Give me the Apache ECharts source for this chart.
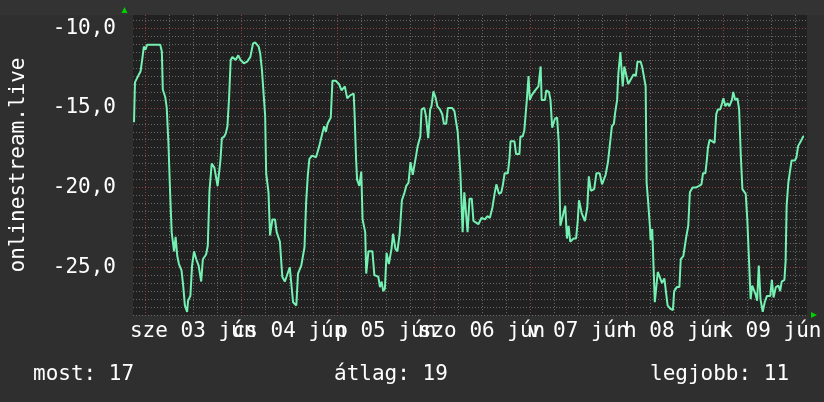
<!DOCTYPE html>
<html>
<head>
<meta charset="utf-8">
<script src="https://cdn.jsdelivr.net/npm/echarts@6/dist/echarts.min.js"></script>
<style>
  html, body { margin: 0; padding: 0; background: #2f2f2f; }
  #chart { width: 824px; height: 402px; }
</style>
</head>
<body>
<div id="chart"></div>
<script>
// hours since 03 jún 00:00
var hours = [
  -2.75,-2.51,-2.19,-1.53,-1.11,-0.72,-0.30,0.11,0.51,3.79,
  4.19,4.43,5.02,5.41,5.83,6.25,6.64,7.23,7.62,8.04,
  8.45,9.09,9.51,9.93,10.49,10.73,11.30,11.72,12.21,12.77,
  13.36,14.00,14.41,15.22,15.64,16.06,16.62,17.28,18.09,18.75,
  18.90,19.15,19.74,20.13,20.54,20.96,21.35,21.77,22.58,23.24,
  23.81,24.64,25.45,26.26,26.92,27.49,28.32,28.71,29.13,29.55,
  29.94,30.19,30.77,31.16,31.75,32.39,32.81,33.62,34.21,34.84,
  35.26,36.07,36.90,37.71,38.13,38.94,39.75,40.16,40.58,40.97,
  41.64,42.62,43.43,44.09,44.65,45.07,45.49,46.30,46.71,47.52,
  48.33,48.99,49.80,50.39,51.20,52.01,52.26,52.60,52.85,53.41,
  53.90,54.22,54.88,55.13,55.69,56.67,57.16,58.14,58.56,58.98,
  59.37,59.79,60.20,60.77,61.43,61.82,62.41,62.90,63.46,64.03,
  64.69,65.11,65.67,66.16,66.73,67.14,67.56,67.95,68.61,68.93,
  69.60,70.01,70.58,71.07,71.39,71.88,72.47,72.86,73.52,74.08,
  74.50,75.06,75.48,76.53,77.12,77.61,77.93,78.60,79.16,79.58,
  80.07,80.39,80.88,81.44,81.86,82.52,83.08,83.89,84.73,85.29,
  85.95,86.59,87.18,87.57,88.23,88.80,89.22,89.63,90.44,90.86,
  91.10,92.08,92.48,93.31,93.56,94.12,94.54,95.10,95.59,95.91,
  96.40,97.24,98.05,98.61,98.86,99.69,100.01,100.67,101.06,101.48,
  102.14,102.71,103.12,103.51,104.10,104.74,105.16,105.58,105.97,106.80,
  107.44,107.85,108.17,108.83,109.64,110.23,110.62,111.12,111.95,112.51,
  113.32,113.91,114.40,114.80,115.39,115.78,116.37,116.86,117.18,117.67,
  117.99,118.23,118.48,118.82,119.06,119.46,119.87,120.44,121.10,121.76,
  122.33,122.74,123.55,123.97,124.36,124.78,125.02,125.34,125.83,126.01,
  126.42,126.82,127.06,127.48,127.80,128.29,128.87,129.44,129.93,130.25,
  130.91,131.57,131.89,132.55,133.19,133.53,134.17,134.83,135.40,135.81,
  136.48,137.29,138.10,138.69,139.08,139.67,140.06,140.31,140.72,141.39,
  141.95,142.37,142.76,143.35,143.84,144.16,144.65,145.21,145.63,146.29,
  146.61,147.10,147.66,148.08,148.50,148.89,149.72,150.11,150.53,150.94,
  151.34,151.75,152.17,152.56,152.98,153.40,153.96,154.45,155.02,155.85,
  156.24,156.66,157.22,157.88,158.30,158.69,159.36,159.67,159.92,160.34,
  160.75,161.15,161.98,162.37,162.78,163.45,164.01,164.26
];

var values = [
  -15.9,-13.4,-13.3,-12.9,-12.7,-12.0,-11.15,-11.35,-11.04,-11.04,
  -11.46,-13.86,-14.3,-15.0,-17.2,-20.3,-22.8,-24.0,-23.1,-24.3,
  -24.8,-25.2,-26.15,-27.4,-27.8,-27.1,-26.8,-24.9,-24.0,-24.5,
  -24.9,-25.9,-24.5,-24.2,-23.65,-20.2,-18.5,-18.75,-19.9,-18.4,
  -17.9,-16.9,-16.8,-16.6,-16.15,-14.3,-12.0,-11.8,-12.0,-11.7,
  -12.0,-12.2,-12.1,-11.8,-10.95,-10.9,-11.15,-11.6,-12.6,-12.6,
  -15.5,-19.1,-20.3,-23.0,-22.0,-22.0,-22.8,-23.4,-25.6,-25.9,
  -25.6,-25.0,-27.2,-27.4,-25.4,-24.9,-23.75,-20.9,-19.2,-18.2,
  -18.0,-18.1,-17.4,-16.7,-16.15,-16.5,-16.0,-15.6,-13.3,-13.3,
  -13.5,-13.9,-13.65,-14.4,-14.2,-14.1,-15.6,-18.2,-19.5,-19.9,
  -19.0,-22.0,-22.8,-25.4,-24.0,-24.0,-25.5,-25.6,-26.25,-25.9,
  -26.5,-26.35,-24.1,-24.8,-23.85,-22.9,-23.85,-24.0,-22.9,-20.8,
  -20.3,-19.9,-19.7,-18.4,-19.2,-19.2,-18.0,-17.4,-16.8,-15.1,
  -15.0,-15.5,-16.9,-15.1,-14.9,-13.96,-14.4,-14.9,-15.1,-15.4,
  -16.0,-16.0,-15.0,-15.0,-15.2,-16.0,-16.5,-19.1,-22.8,-20.3,
  -20.4,-22.8,-20.7,-20.7,-22.1,-22.2,-22.3,-21.9,-22.0,-21.8,
  -21.9,-21.25,-20.3,-19.8,-20.4,-20.3,-19.8,-19.1,-19.1,-18.1,
  -17.1,-17.1,-17.9,-17.9,-16.8,-16.8,-16.4,-14.7,-13.0,-14.5,
  -14.2,-13.9,-13.65,-12.4,-14.5,-14.5,-13.9,-14.0,-14.5,-16.25,
  -15.7,-15.6,-17.2,-22.4,-21.8,-21.15,-23.2,-22.4,-23.4,-23.2,
  -23.2,-22.1,-20.8,-21.6,-22.1,-21.25,-19.3,-20.2,-20.1,-19.1,
  -19.1,-19.8,-19.9,-19.2,-18.4,-17.5,-16.15,-16.0,-15.3,-14.5,
  -12.8,-12.7,-11.5,-11.5,-13.65,-12.4,-12.4,-13.5,-13.2,-12.9,
  -13.0,-12.1,-12.1,-12.5,-12.5,-13.65,-19.7,-20.7,-22.4,-23.3,
  -22.6,-22.6,-27.2,-27.2,-25.3,-25.2,-26.0,-25.7,-25.8,-27.4,
  -27.6,-27.7,-26.5,-26.25,-26.25,-24.5,-24.3,-23.2,-22.4,-20.3,
  -20.0,-20.0,-19.9,-19.8,-19.1,-19.1,-18.2,-17.5,-17.0,-17.1,
  -17.2,-15.4,-15.1,-15.1,-14.7,-14.4,-14.9,-14.7,-14.9,-14.5,
  -14.0,-14.5,-14.4,-15.1,-18.0,-20.1,-20.4,-22.0,-24.5,-27.0,
  -26.15,-26.15,-26.7,-27.1,-24.9,-27.0,-27.8,-27.2,-26.8,-26.8,
  -25.8,-26.9,-26.25,-26.15,-26.5,-25.9,-25.8,-24.6,-21.15,-19.7,
  -19.6,-18.3,-18.3,-18.1,-17.4,-17.1,-16.8,-16.8
];

// day labels, centred on noon of each day
var dayLabels = ["sze 03 jún", "cs 04 jún", "p 05 jún", "szo 06 jún", "v 07 jún", "h 08 jún", "k 09 jún"];
var dayNoons = [12, 36, 60, 84, 108, 132, 156];

var summaryNames = ["most", "átlag", "legjobb"];
var summaryValues = [17, 19, 11];

var FONT = "DejaVu Sans Mono";
var GRID_GRAY = "#676767";
var GRID_RED = "#8f4242";
var NONE = "rgba(0,0,0,0)";

var chart = echarts.init(document.getElementById("chart"));

var seriesData = hours.map(function (h, i) { return [h, values[i]]; });

var summaryLeft = [33, 334, 650];

chart.setOption({
  backgroundColor: "#2f2f2f",
  animation: false,
  grid: {
    left: 124,
    right: 15,
    top: 15,
    bottom: 87,
    show: true,
    backgroundColor: "#212121",
    borderWidth: 0
  },
  xAxis: {
    type: "value",
    min: -3,
    max: 165,
    interval: 3,
    axisLine: { show: false },
    axisTick: { show: false },
    axisLabel: {
      color: "#ffffff",
      fontFamily: FONT,
      fontSize: 21,
      margin: 6,
      formatter: function (v) {
        var k = dayNoons.indexOf(Math.round(v));
        return k >= 0 ? dayLabels[k] : "";
      }
    },
    splitLine: {
      show: true,
      showMaxLine: false,
      lineStyle: {
        // ticks every 3h from -3: grid every 6h, red at midnight
        color: [NONE, GRID_RED, NONE, GRID_GRAY, NONE, GRID_GRAY, NONE, GRID_GRAY],
        width: 1,
        type: [1, 2]
      }
    }
  },
  yAxis: {
    type: "value",
    min: -28,
    max: -9.17,
    interval: 0.5,
    name: "onlinestream.live",
    nameLocation: "middle",
    nameGap: 104,
    nameTextStyle: {
      color: "#ffffff",
      fontFamily: FONT,
      fontSize: 21
    },
    axisLine: { show: false },
    axisTick: { show: false },
    axisLabel: {
      color: "#ffffff",
      fontFamily: FONT,
      fontSize: 21,
      margin: 17,
      formatter: function (v) {
        return Math.abs(v % 5) < 1e-6 ? v.toFixed(1).replace(".", ",") : "";
      }
    },
    splitLine: {
      show: true,
      showMaxLine: false,
      lineStyle: {
        // ticks every 0.5 from -28: red every 5
        color: [GRID_GRAY, GRID_GRAY, GRID_GRAY, GRID_GRAY, GRID_GRAY, GRID_GRAY, GRID_RED, GRID_GRAY, GRID_GRAY, GRID_GRAY],
        width: 1,
        type: [1, 2]
      }
    }
  },
  graphic: [
    {
      // slightly lighter strip above the plot
      type: "rect",
      z: -100,
      shape: { x: 0, y: 0, width: 824, height: 15 },
      style: { fill: "#333333" },
      silent: true
    },
    {
      type: "polygon",
      shape: { points: [[121.5, 13], [127.5, 13], [124.5, 7]] },
      style: { fill: "#00d000" },
      silent: true
    },
    {
      type: "polygon",
      shape: { points: [[811, 312], [811, 318], [817, 315]] },
      style: { fill: "#00d000" },
      silent: true
    }
  ].concat(summaryNames.map(function (name, i) {
    return {
      type: "text",
      left: summaryLeft[i],
      top: 364,
      style: {
        text: name + ": " + summaryValues[i],
        fill: "#ffffff",
        font: "21px '" + FONT + "'"
      },
      silent: true
    };
  })),
  series: [
    {
      type: "line",
      data: seriesData,
      showSymbol: false,
      smooth: false,
      clip: true,
      lineStyle: {
        color: "#74f0b2",
        width: 2
      }
    }
  ]
});
</script>
</body>
</html>
